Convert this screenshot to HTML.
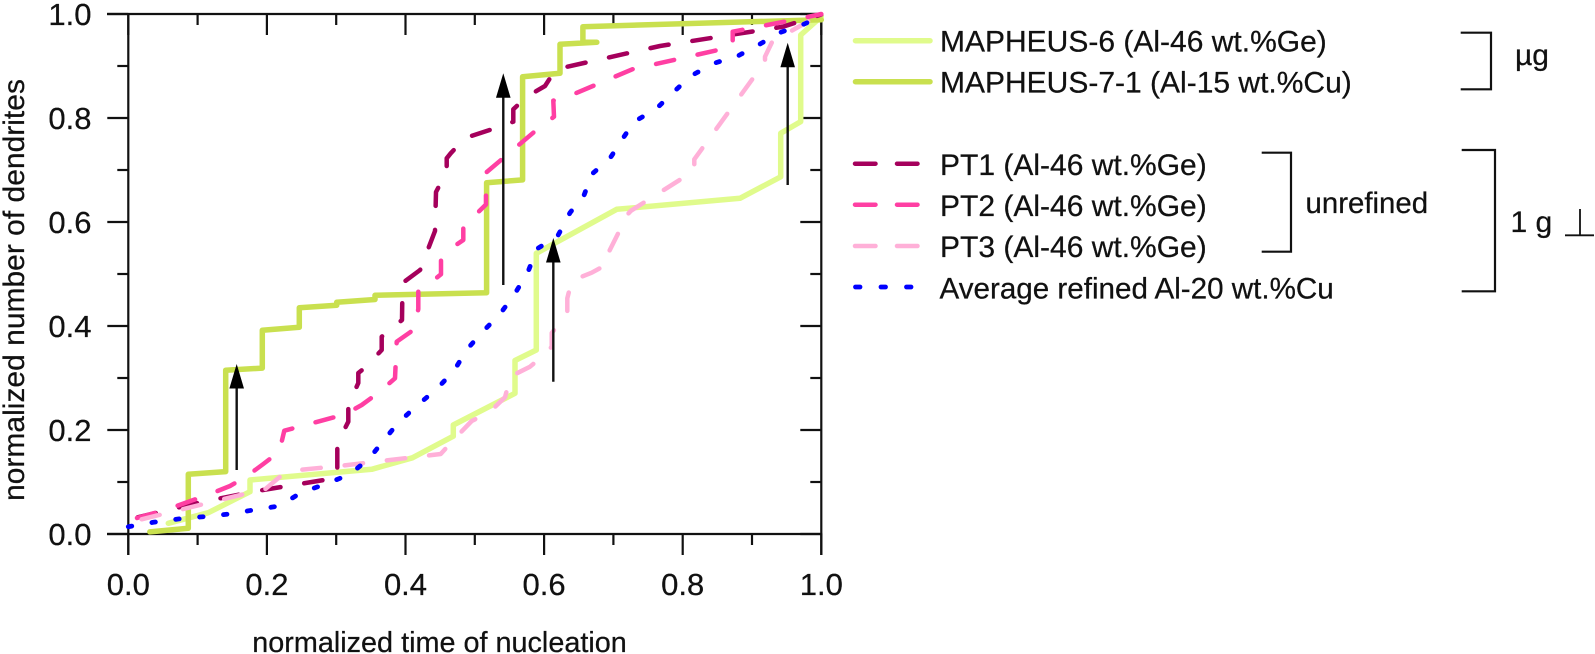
<!DOCTYPE html>
<html>
<head>
<meta charset="utf-8">
<title>Normalized number of dendrites vs. normalized time of nucleation</title>
<style>
html,body{margin:0;padding:0;background:#fff;width:1595px;height:654px;overflow:hidden}
svg{display:block}
text{font-family:"Liberation Sans",Arial,sans-serif;fill:#111;font-size:30px;stroke:#111;stroke-width:.25px}
.tl{font-size:31px}
</style>
</head>
<body>
<svg id="chart" xmlns="http://www.w3.org/2000/svg" width="1595" height="654" viewBox="0 0 1595 654">
  <g id="axes"></g>
  <g id="series"></g>
  <g id="arrows"></g>
  <text x="439.5" y="652" text-anchor="middle" style="font-size:28.8px">normalized time of nucleation</text>
  <text transform="translate(24,290) rotate(-90)" text-anchor="middle">normalized number of dendrites</text>

  <g>
    <g>
      <line x1="855.5" y1="40.7" x2="930" y2="40.7" stroke="#e0fb8c" stroke-width="5.5" stroke-linecap="round"/>
      <text x="940" y="51.7">MAPHEUS-6 (Al-46 wt.%Ge)</text>
    </g>
    <g>
      <line x1="855.5" y1="81.7" x2="930" y2="81.7" stroke="#c9e04f" stroke-width="5.5" stroke-linecap="round"/>
      <text x="940" y="92.7">MAPHEUS-7-1 (Al-15 wt.%Cu)</text>
    </g>
    <g>
      <line x1="855" y1="163.7" x2="917.5" y2="163.7" stroke="#a5005c" stroke-width="4.5" stroke-linecap="round" stroke-dasharray="20.5 21.5"/>
      <text x="940" y="175">PT1 (Al-46 wt.%Ge)</text>
    </g>
    <g>
      <line x1="855" y1="204.7" x2="917.5" y2="204.7" stroke="#ff3fa3" stroke-width="4.5" stroke-linecap="round" stroke-dasharray="20.5 21.5"/>
      <text x="940" y="216">PT2 (Al-46 wt.%Ge)</text>
    </g>
    <g>
      <line x1="855" y1="246" x2="917.5" y2="246" stroke="#ffb0d8" stroke-width="4.5" stroke-linecap="round" stroke-dasharray="20.5 21.5"/>
      <text x="940" y="257">PT3 (Al-46 wt.%Ge)</text>
    </g>
    <g>
      <line x1="855.5" y1="287" x2="911" y2="287" stroke="#0000ff" stroke-width="4.8" stroke-linecap="round" stroke-dasharray="4.5 21"/>
      <text x="939.5" y="298.3" style="font-size:29.6px">Average refined Al-20 wt.%Cu</text>
    </g>
  </g>

  <g>
    <polyline points="1460.7,32.7 1491,32.7 1491,89.3 1460.7,89.3" fill="none" stroke="#111" stroke-width="2.2"/>
    <text x="1515" y="65">µg</text>
    <polyline points="1261.7,152.7 1291,152.7 1291,251.7 1261.7,251.7" fill="none" stroke="#111" stroke-width="2.2"/>
    <text x="1305.5" y="213" style="font-size:29.4px">unrefined</text>
    <polyline points="1461.7,150 1495,150 1495,291.3 1461.7,291.3" fill="none" stroke="#111" stroke-width="2.2"/>
    <text x="1510.5" y="232">1 g</text>
    <g>
      <line x1="1565" y1="235.3" x2="1594" y2="235.3" stroke="#111" stroke-width="1.8"/>
      <line x1="1580" y1="209" x2="1580" y2="235.3" stroke="#111" stroke-width="1.8"/>
    </g>
  </g>
</svg>
<script>
// ---- chart data (normalized units) ----
const xTickValues = [0, 0.1, 0.2, 0.3, 0.4, 0.5, 0.6, 0.7, 0.8, 0.9, 1];
const yTickValues = [0, 0.1, 0.2, 0.3, 0.4, 0.5, 0.6, 0.7, 0.8, 0.9, 1];
const xTickLabels = ["0.0", "", "0.2", "", "0.4", "", "0.6", "", "0.8", "", "1.0"];
const yTickLabels = ["0.0", "", "0.2", "", "0.4", "", "0.6", "", "0.8", "", "1.0"];

const mapheus6X = [.0577,.1154,.1756,.1756,.3512,.410,.469,.469,.558,.558,.5887,.5887,.7048,.8827,.9414,.9414,.9703,.9703,1.0];
const mapheus6Y = [.0206,.041,.0813,.1038,.1244,.1465,.188,.2096,.2706,.3337,.3538,.5398,.6244,.6456,.687,.7706,.793,.9596,.995];

const mapheus7X = [.031,.0866,.0866,.1405,.1405,.1934,.1934,.2468,.2468,.3007,.3007,.356,.356,.517,.517,.569,.569,.623,.623,.676,.656,.656,1.0];
const mapheus7Y = [.004,.011,.115,.120,.315,.319,.392,.3975,.435,.440,.4456,.451,.459,.464,.6756,.681,.8794,.886,.9417,.9456,.9456,.9756,.989];

const pt1X = [.0136,.1035,.1944,.2824,.3016,.3016,.3175,.3175,.3319,.3319,.3416,.3657,.3657,.3705,.395,.3957,.421,.4426,.444,.4594,.4594,.4652,.4859,.5436,.5556,.5556,.5749,.6013,.6167,.7672,.9447,1.0];
const pt1Y = [.0321,.061,.0846,.1038,.1115,.1744,.216,.248,.2904,.3096,.3198,.3538,.3794,.3846,.4115,.4827,.5077,.5827,.6577,.6967,.7225,.7321,.7615,.7865,.7929,.8167,.841,.8615,.8937,.9385,.9756,.999];

const pt2X = [.0126,.053,.118,.1467,.1694,.1948,.2179,.2251,.3127,.3368,.3599,.3848,.3873,.4127,.4185,.4185,.444,.4512,.4512,.4729,.4834,.4834,.5162,.5162,.5844,.6143,.6133,.6431,.7273,.8721,.8721,.9717,1.0];
const pt2Y = [.0308,.046,.0769,.0923,.1096,.1346,.1583,.1987,.2302,.248,.2706,.2994,.3698,.3937,.4327,.4673,.4917,.4994,.5288,.5558,.5654,.591,.6337,.6948,.7717,.8025,.8333,.8462,.8937,.9371,.966,.9917,1.0];

const pt3X = [.0193,.1674,.1973,.2189,.2463,.3079,.4508,.4714,.4955,.5219,.5436,.5515,.5797,.5999,.611,.611,.6335,.6335,.6398,.6687,.6937,.6937,.7128,.7128,.7254,.8167,.8167,.9187,.9187,.9299,.9573,1.0];
const pt3Y = [.0283,.0769,.086,.1102,.1231,.1313,.1538,.184,.2173,.2352,.2629,.3029,.3217,.3442,.3602,.3865,.4244,.4533,.4871,.5025,.5206,.5429,.5942,.6038,.6217,.6987,.7206,.9083,.9179,.9487,.9679,1.0];

const avgX = [0,.0361,.0722,.1082,.1457,.1804,.2179,.2502,.2838,.3199,.3478,.369,.3896,.4147,.445,.47,.4892,.5123,.5354,.5566,.5763,.5893,.6196,.6374,.6576,.6691,.6951,.7128,.7297,.761,.785,.8115,.8452,.8802,.9082,.9414,.9755,1.0];
const avgY = [.014,.0225,.0288,.0333,.0385,.0462,.0538,.0802,.0956,.1148,.1456,.1808,.214,.2448,.2788,.314,.3558,.3904,.4212,.4596,.5025,.5481,.5731,.6179,.6513,.6923,.7225,.759,.7929,.8167,.8475,.8808,.9052,.9198,.9398,.9648,.9808,.996];

const arrowX = [.1564,.5411,.6133,.9515];
const arrowFromY = [.123,.4788,.2929,.6712];
const arrowToY = [.327,.886,.5692,.9448];

// ---- axis functions ----
const NS = "http://www.w3.org/2000/svg";
const X0 = 128.3, X1 = 821.3, Y0 = 534, Y1 = 14;
function sx(v) { return X0 + v * (X1 - X0); }
function sy(v) { return Y0 - v * (Y0 - Y1); }
function mk(tag, attrs, parent) {
  const el = document.createElementNS(NS, tag);
  for (const k in attrs) el.setAttribute(k, attrs[k]);
  parent.appendChild(el);
  return el;
}

// ---- axes ----
const axes = document.getElementById("axes");
const axisStyle = { stroke: "#111", "stroke-width": 2.2, fill: "none" };

const frameBottom = mk("line", Object.assign({ x1: 107, y1: Y0, x2: X1 + 1, y2: Y0 }, axisStyle), axes);


const frameTop = mk("line", Object.assign({ x1: 107, y1: Y1, x2: X1 + 1, y2: Y1 }, axisStyle), axes);


const frameLeft = mk("line", Object.assign({ x1: X0, y1: Y1 - 1, x2: X0, y2: 555 }, axisStyle), axes);


const frameRight = mk("line", Object.assign({ x1: X1, y1: Y1 - 1, x2: X1, y2: 555 }, axisStyle), axes);



xTickValues.forEach(function (v, i) {
  const major = xTickLabels[i] !== "";
  const len = major ? 21 : 11;
  const x = sx(v);
  const tick = mk("line", Object.assign({ x1: x, y1: Y0, x2: x, y2: Y0 + len }, axisStyle), axes);
  
  
  const topTick = mk("line", Object.assign({ x1: x, y1: Y1, x2: x, y2: Y1 + len }, axisStyle), axes);
  
  
  if (major) {
    const t = mk("text", { x: x, y: 595, "text-anchor": "middle", "class": "tl" }, axes);
    t.textContent = xTickLabels[i];
    
    
  }
});

yTickValues.forEach(function (v, i) {
  const major = yTickLabels[i] !== "";
  const len = major ? 21 : 11;
  const y = sy(v);
  const tick = mk("line", Object.assign({ x1: X0 - len, y1: y, x2: X0, y2: y }, axisStyle), axes);
  
  
  const rightTick = mk("line", Object.assign({ x1: X1 - len, y1: y, x2: X1, y2: y }, axisStyle), axes);
  
  
  if (major) {
    const t = mk("text", { x: 91.5, y: y + 11, "text-anchor": "end", "class": "tl" }, axes);
    t.textContent = yTickLabels[i];
    
    
  }
});

// ---- series ----
const seriesGroup = document.getElementById("series");
function drawLine(xs, ys, color, width, dash) {
  const d = xs.map(function (x, i) { return (i ? "L" : "M") + sx(x).toFixed(1) + " " + sy(ys[i]).toFixed(1); }).join(" ");
  const attrs = { d: d, fill: "none", stroke: color, "stroke-width": width, "stroke-linecap": "round", "stroke-linejoin": "round" };
  if (dash) attrs["stroke-dasharray"] = dash;
  return mk("path", attrs, seriesGroup);
}
const lineM6 = drawLine(mapheus6X, mapheus6Y, "#e0fb8c", 5.5);


const lineM7 = drawLine(mapheus7X, mapheus7Y, "#c9e04f", 5.5);


const linePt1 = drawLine(pt1X, pt1Y, "#a5005c", 4.5, "18.5 24");


const linePt2 = drawLine(pt2X, pt2Y, "#ff3fa3", 4.5, "18.5 24");


const linePt3 = drawLine(pt3X, pt3Y, "#ffb0d8", 4.5, "18.5 24");


const lineAvg = drawLine(avgX, avgY, "#0000ff", 4.8, "3.5 20.5");



// ---- arrows ----
const arrowGroup = document.getElementById("arrows");
arrowX.forEach(function (v, i) {
  const x = sx(v), yFrom = sy(arrowFromY[i]), yTip = sy(arrowToY[i]);
  const shaft = mk("line", { x1: x, y1: yFrom, x2: x, y2: yTip + 24, stroke: "#111", "stroke-width": 2.4 }, arrowGroup);
  
  
  const head = mk("polygon", { points: x + "," + yTip + " " + (x - 7.3) + "," + (yTip + 24.5) + " " + (x + 7.3) + "," + (yTip + 24.5), fill: "#000" }, arrowGroup);
  
  
});
</script>
</body>
</html>
